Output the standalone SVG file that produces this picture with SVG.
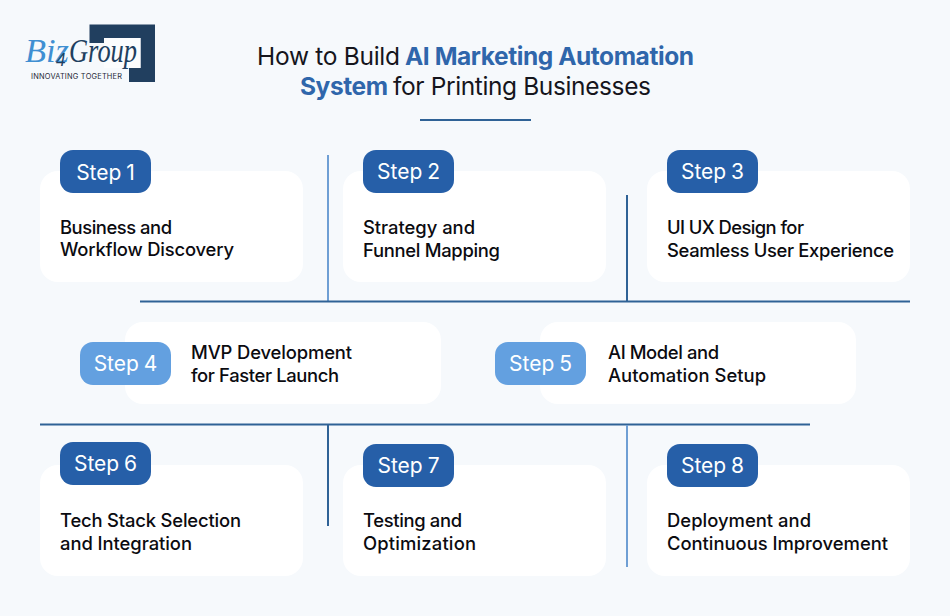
<svg xmlns="http://www.w3.org/2000/svg" width="950" height="616" viewBox="0 0 950 616">
<style>
text{font-family:"Inter","Liberation Sans",sans-serif}
.card{fill:#fff}
.b{fill:#265fa8}
.l{fill:#63a0e0}
.st{fill:#fff;font-size:21px;font-weight:400;text-anchor:middle;word-spacing:-1px}
.t{fill:#0b0b10;font-size:18.4px;font-weight:500}
.h{font-size:24.5px;font-weight:400;fill:#15151c}
.hb{fill:#2f66ab;font-weight:700}
.dk{stroke:#2f6296;stroke-width:2;fill:none}
.lt{stroke:#6f9fd4;stroke-width:2;fill:none}
.lg{font-size:33px;font-style:italic}
</style>
<rect width="950" height="616" fill="#f6f9fc"/>
<g id="logo">
<path d="M89.500 24.500H155V82H129V68H140.500V38H104V43H89.500Z" fill="#213f5f"/>
<rect x="104" y="38" width="36.500" height="30" fill="#fbfcfd"/>
<text class="lg" x="25" y="62" textLength="44" lengthAdjust="spacingAndGlyphs" style="font-family:'Liberation Serif',serif" fill="#3f8fd2">Biz</text>
<text x="56" y="66" font-size="19" font-style="italic" style="font-family:'Liberation Serif',serif" fill="#213f5f">4</text>
<text class="lg" x="69" y="62" textLength="68" lengthAdjust="spacingAndGlyphs" style="font-family:'Liberation Serif',serif" fill="#213f5f">Group</text>
<text x="31" y="79" font-size="7.400" textLength="91" fill="#1f2a38">INNOVATING TOGETHER</text>
</g>
<g id="title">
<text class="h" x="257" y="65" textLength="143">How to Build</text>
<text class="h hb" x="405" y="65" textLength="289">AI Marketing Automation</text>
<text class="h hb" x="300" y="95" textLength="88">System</text>
<text class="h" x="393" y="95" textLength="258">for Printing Businesses</text>
<rect x="420" y="119" width="111" height="2" fill="#2f6296"/>
</g>
<g id="connectors">
<path class="lt" d="M328 155V301"/>
<path class="dk" d="M627 195V301"/>
<path class="dk" d="M140 301.500H910"/>
<path class="dk" d="M40 424.500H810"/>
<path class="dk" d="M328 425V526"/>
<path class="lt" d="M627 425V567"/>
</g>
<g id="step1"><rect class="card" x="40" y="171" width="263" height="111" rx="18"/><rect class="b" x="60" y="150" width="91" height="43" rx="13"/><text class="st" x="105.500" y="180">Step 1</text><text class="t" x="60" y="234" textLength="112">Business and</text><text class="t" x="60" y="256" textLength="174">Workflow Discovery</text></g>
<g id="step2"><rect class="card" x="343" y="171" width="263" height="111" rx="18"/><rect class="b" x="363" y="150" width="91" height="43" rx="13"/><text class="st" x="408.500" y="179">Step 2</text><text class="t" x="363" y="234" textLength="112">Strategy and</text><text class="t" x="363" y="257" textLength="137">Funnel Mapping</text></g>
<g id="step3"><rect class="card" x="647" y="171" width="263" height="111" rx="18"/><rect class="b" x="667" y="150" width="91" height="43" rx="13"/><text class="st" x="712.500" y="179">Step 3</text><text class="t" x="667" y="234" textLength="137">UI UX Design for</text><text class="t" x="667" y="257" textLength="227">Seamless User Experience</text></g>
<g id="step4"><rect class="card" x="125" y="322" width="316" height="82" rx="18"/><rect class="l" x="80" y="342" width="91" height="43" rx="13"/><text class="st" x="125.500" y="371">Step 4</text><text class="t" x="191" y="359" textLength="161">MVP Development</text><text class="t" x="191" y="382" textLength="148">for Faster Launch</text></g>
<g id="step5"><rect class="card" x="540" y="322" width="316" height="82" rx="18"/><rect class="l" x="495" y="342" width="91" height="43" rx="13"/><text class="st" x="540.500" y="371">Step 5</text><text class="t" x="608" y="359" textLength="111">AI Model and</text><text class="t" x="608" y="382" textLength="158">Automation Setup</text></g>
<g id="step6"><rect class="card" x="40" y="465" width="263" height="111" rx="18"/><rect class="b" x="60" y="442" width="91" height="43" rx="13"/><text class="st" x="105.500" y="471">Step 6</text><text class="t" x="60" y="527" textLength="181">Tech Stack Selection</text><text class="t" x="60" y="550" textLength="132">and Integration</text></g>
<g id="step7"><rect class="card" x="343" y="465" width="263" height="111" rx="18"/><rect class="b" x="363" y="444" width="91" height="43" rx="13"/><text class="st" x="408.500" y="473">Step 7</text><text class="t" x="363" y="527" textLength="99">Testing and</text><text class="t" x="363" y="550" textLength="113">Optimization</text></g>
<g id="step8"><rect class="card" x="647" y="465" width="263" height="111" rx="18"/><rect class="b" x="667" y="444" width="91" height="43" rx="13"/><text class="st" x="712.500" y="473">Step 8</text><text class="t" x="667" y="527" textLength="144">Deployment and</text><text class="t" x="667" y="550" textLength="221">Continuous Improvement</text></g>
</svg>
